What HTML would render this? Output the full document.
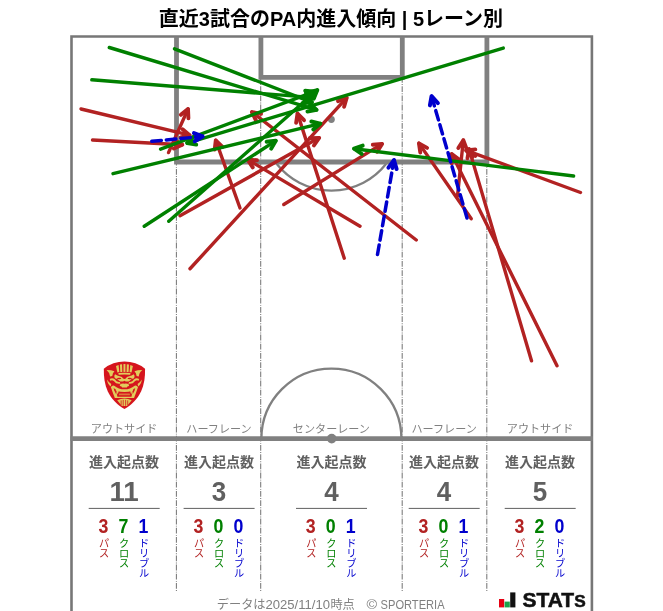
<!DOCTYPE html>
<html lang="ja"><head><meta charset="utf-8"><title>直近3試合のPA内進入傾向 | 5レーン別</title>
<style>html,body{margin:0;padding:0;background:#fff;}body{width:663px;height:611px;overflow:hidden;}svg{display:block;}text{font-family:"Liberation Sans", "Noto Sans CJK JP", sans-serif;}</style></head><body>
<svg width="663" height="611" viewBox="0 0 663 611">
<rect width="663" height="611" fill="#fff"/>
<text x="331" y="25.5" text-anchor="middle" font-size="20" font-weight="700" fill="#000">直近3試合のPA内進入傾向 | 5レーン別</text>
<g fill="none" stroke="#808080">
<line x1="176.4" y1="36.5" x2="176.4" y2="591.3" stroke="#787878" stroke-width="1.05" stroke-dasharray="5.8 1.3 0.9 1.2" stroke-dashoffset="5.5"/>
<line x1="260.7" y1="36.5" x2="260.7" y2="591.3" stroke="#787878" stroke-width="1.05" stroke-dasharray="5.8 1.3 0.9 1.2" stroke-dashoffset="5.5"/>
<line x1="402.2" y1="36.5" x2="402.2" y2="591.3" stroke="#787878" stroke-width="1.05" stroke-dasharray="5.8 1.3 0.9 1.2" stroke-dashoffset="5.5"/>
<line x1="486.8" y1="36.5" x2="486.8" y2="591.3" stroke="#787878" stroke-width="1.05" stroke-dasharray="5.8 1.3 0.9 1.2" stroke-dashoffset="5.5"/>
<path d="M71.5 611V36.5H591.9V611" stroke-width="2.6" stroke="#777"/>
<path d="M176.5 36.5V162H486.9V36.5" stroke-width="4.8"/>
<path d="M260.9 36.5V77.4H402.3V36.5" stroke-width="4.8"/>
<path d="M276.6 163.8A69.5 69.5 0 0 0 386.2 163.8" stroke-width="2.3"/>
<path d="M261.4 438.6A70 70 0 0 1 401.4 438.6" stroke-width="2.3"/>
<line x1="70.5" y1="438.6" x2="592.9" y2="438.6" stroke-width="4.8"/>
</g>
<circle cx="331.4" cy="119.5" r="3.4" fill="#808080"/>
<circle cx="331.7" cy="438.6" r="4.8" fill="#808080"/>
<g stroke="#b22222" fill="none" stroke-linecap="round" stroke-linejoin="round"><path d="M81.00 109.00L189.65 135.20" stroke-width="3.40"/><path d="M180.61 137.29L189.65 135.20L182.55 129.22" stroke-width="3.90"/></g>
<g stroke="#b22222" fill="none" stroke-linecap="round" stroke-linejoin="round"><path d="M92.50 140.00L182.30 144.71" stroke-width="3.40"/><path d="M173.80 148.42L182.30 144.71L174.23 140.13" stroke-width="3.90"/></g>
<g stroke="#b22222" fill="none" stroke-linecap="round" stroke-linejoin="round"><path d="M168.50 152.60L188.01 108.95" stroke-width="3.40"/><path d="M188.41 118.22L188.01 108.95L180.83 114.84" stroke-width="3.90"/></g>
<g stroke="#b22222" fill="none" stroke-linecap="round" stroke-linejoin="round"><path d="M190.00 268.75L346.65 97.85" stroke-width="3.40"/><path d="M344.10 106.78L346.65 97.85L337.98 101.17" stroke-width="3.90"/></g>
<g stroke="#b22222" fill="none" stroke-linecap="round" stroke-linejoin="round"><path d="M180.00 215.75L319.12 137.83" stroke-width="3.40"/><path d="M313.90 145.51L319.12 137.83L309.85 138.27" stroke-width="3.90"/></g>
<g stroke="#b22222" fill="none" stroke-linecap="round" stroke-linejoin="round"><path d="M240.00 208.00L215.77 140.40" stroke-width="3.40"/><path d="M222.48 146.81L215.77 140.40L214.67 149.61" stroke-width="3.90"/></g>
<g stroke="#b22222" fill="none" stroke-linecap="round" stroke-linejoin="round"><path d="M344.25 258.25L297.52 113.62" stroke-width="3.40"/><path d="M304.02 120.24L297.52 113.62L296.13 122.79" stroke-width="3.90"/></g>
<g stroke="#b22222" fill="none" stroke-linecap="round" stroke-linejoin="round"><path d="M360.00 226.25L247.71 159.62" stroke-width="3.40"/><path d="M256.97 160.28L247.71 159.62L252.73 167.42" stroke-width="3.90"/></g>
<g stroke="#b22222" fill="none" stroke-linecap="round" stroke-linejoin="round"><path d="M283.75 204.50L382.05 143.89" stroke-width="3.40"/><path d="M377.17 151.78L382.05 143.89L372.81 144.72" stroke-width="3.90"/></g>
<g stroke="#b22222" fill="none" stroke-linecap="round" stroke-linejoin="round"><path d="M416.25 240.00L251.94 112.04" stroke-width="3.40"/><path d="M261.04 113.87L251.94 112.04L255.94 120.42" stroke-width="3.90"/></g>
<g stroke="#b22222" fill="none" stroke-linecap="round" stroke-linejoin="round"><path d="M471.25 218.75L418.97 143.40" stroke-width="3.40"/><path d="M427.11 147.85L418.97 143.40L420.29 152.58" stroke-width="3.90"/></g>
<g stroke="#b22222" fill="none" stroke-linecap="round" stroke-linejoin="round"><path d="M457.50 196.00L463.32 140.19" stroke-width="3.40"/><path d="M466.59 148.88L463.32 140.19L458.33 148.02" stroke-width="3.90"/></g>
<g stroke="#b22222" fill="none" stroke-linecap="round" stroke-linejoin="round"><path d="M557.00 365.75L451.76 154.02" stroke-width="3.40"/><path d="M459.17 159.61L451.76 154.02L451.73 163.30" stroke-width="3.90"/></g>
<g stroke="#b22222" fill="none" stroke-linecap="round" stroke-linejoin="round"><path d="M531.50 360.75L469.08 149.13" stroke-width="3.40"/><path d="M475.41 155.92L469.08 149.13L467.45 158.27" stroke-width="3.90"/></g>
<g stroke="#b22222" fill="none" stroke-linecap="round" stroke-linejoin="round"><path d="M580.50 192.50L466.10 150.39" stroke-width="3.40"/><path d="M475.32 149.36L466.10 150.39L472.45 157.15" stroke-width="3.90"/></g>
<g stroke="#008000" fill="none" stroke-linecap="round" stroke-linejoin="round"><path d="M109.30 47.50L316.57 109.91" stroke-width="3.40"/><path d="M307.43 111.49L316.57 109.91L309.82 103.54" stroke-width="3.90"/></g>
<g stroke="#008000" fill="none" stroke-linecap="round" stroke-linejoin="round"><path d="M91.80 79.80L313.81 97.66" stroke-width="3.40"/><path d="M305.20 101.13L313.81 97.66L305.87 92.86" stroke-width="3.90"/></g>
<g stroke="#008000" fill="none" stroke-linecap="round" stroke-linejoin="round"><path d="M174.50 48.80L311.92 102.38" stroke-width="3.40"/><path d="M302.68 103.23L311.92 102.38L305.69 95.50" stroke-width="3.90"/></g>
<g stroke="#008000" fill="none" stroke-linecap="round" stroke-linejoin="round"><path d="M113.00 173.70L320.35 123.60" stroke-width="3.40"/><path d="M313.25 129.58L320.35 123.60L311.31 121.51" stroke-width="3.90"/></g>
<g stroke="#008000" fill="none" stroke-linecap="round" stroke-linejoin="round"><path d="M160.60 149.20L314.41 91.60" stroke-width="3.40"/><path d="M308.09 98.39L314.41 91.60L305.18 90.62" stroke-width="3.90"/></g>
<g stroke="#008000" fill="none" stroke-linecap="round" stroke-linejoin="round"><path d="M144.25 226.25L275.82 140.68" stroke-width="3.40"/><path d="M271.13 148.68L275.82 140.68L266.60 141.72" stroke-width="3.90"/></g>
<g stroke="#008000" fill="none" stroke-linecap="round" stroke-linejoin="round"><path d="M168.75 221.25L317.33 90.03" stroke-width="3.40"/><path d="M313.85 98.63L317.33 90.03L308.36 92.41" stroke-width="3.90"/></g>
<g stroke="#008000" fill="none" stroke-linecap="round" stroke-linejoin="round"><path d="M503.25 48.10L187.13 143.01" stroke-width="3.40"/><path d="M193.88 136.65L187.13 143.01L196.27 144.60" stroke-width="3.90"/></g>
<g stroke="#008000" fill="none" stroke-linecap="round" stroke-linejoin="round"><path d="M573.60 176.00L353.99 148.71" stroke-width="3.40"/><path d="M362.74 145.61L353.99 148.71L361.71 153.85" stroke-width="3.90"/></g>
<g stroke="#0000cd" fill="none" stroke-linecap="round" stroke-linejoin="round"><path d="M151.80 141.30L202.61 136.46" stroke-width="3.50" stroke-dasharray="9.6 5.0"/><path d="M194.74 141.38L202.61 136.46L193.95 133.12" stroke-width="4.00"/></g>
<g stroke="#0000cd" fill="none" stroke-linecap="round" stroke-linejoin="round"><path d="M377.50 254.50L393.96 160.17" stroke-width="3.50" stroke-dasharray="9.6 5.0"/><path d="M396.62 169.06L393.96 160.17L388.44 167.64" stroke-width="4.00"/></g>
<g stroke="#0000cd" fill="none" stroke-linecap="round" stroke-linejoin="round"><path d="M467.00 218.00L431.57 96.23" stroke-width="3.50" stroke-dasharray="9.6 5.0"/><path d="M437.88 103.04L431.57 96.23L429.91 105.36" stroke-width="4.00"/></g>
<g transform="translate(94 355) scale(0.09820)">
<path d="M100 140A331.5 331.5 0 0 1 520 140C522 230 510 300 480 370C445 450 380 510 310 551C240 510 175 450 140 370C110 300 98 230 100 140Z" fill="#d5151d"/>
<g fill="#e2cc5c" stroke="none">
<path d="M224 112L250 103L258 172L238 177Z"/>
<path d="M264 98L286 94L288 172L268 172Z"/>
<path d="M300 92H320V172H300Z"/>
<path d="M356 98L334 94L332 172L352 172Z"/>
<path d="M396 112L370 103L362 172L382 177Z"/>
<path d="M248 184Q310 176 372 184L368 202Q310 194 252 202Z"/>
<path id="hornL" d="M128 152Q170 150 208 166Q190 182 186 214L164 220Q162 180 128 152Z"/>
<path d="M492 152Q450 150 412 166Q430 182 434 214L456 220Q458 180 492 152Z"/>
<path d="M214 196Q236 214 262 216Q290 218 296 240Q310 250 324 240Q330 218 358 216Q384 214 406 196Q420 214 408 236Q380 240 364 262Q340 280 310 262Q280 280 256 262Q240 240 212 236Q200 214 214 196Z"/>
<path d="M160 244Q190 228 214 250Q230 280 262 274L270 292Q226 300 204 268Q186 250 166 262Z"/>
<path d="M460 244Q430 228 406 250Q390 280 358 274L350 292Q394 300 416 268Q434 250 454 262Z"/>
<path d="M132 250Q150 280 176 296L170 322Q140 300 132 250Z"/>
<path d="M488 250Q470 280 444 296L450 322Q480 300 488 250Z"/>
<path d="M262 304Q286 284 310 292Q334 284 358 304Q362 322 340 322L334 332H286L280 322Q258 322 262 304Z"/>
<path d="M172 328Q182 306 206 312Q250 348 310 350Q370 348 414 312Q438 306 448 328Q430 380 408 438L212 438Q190 380 172 328Z"/>
<path d="M236 462Q310 426 384 462L336 520H284Z"/>
</g>
<path d="M226 364Q310 392 394 364L382 426H238Z" fill="#d5151d"/>
<path d="M200 336L222 352L226 400L206 362Z" fill="#d5151d"/>
<path d="M420 336L398 352L394 400L414 362Z" fill="#d5151d"/>
<ellipse cx="256" cy="239" rx="22" ry="8" fill="#d5151d"/><ellipse cx="364" cy="239" rx="22" ry="8" fill="#d5151d"/><path d="M296 214L310 232L324 214Z" fill="#d5151d"/>
<path d="M230 362L252 368L240 402Z" fill="#e2cc5c"/><path d="M390 362L368 368L380 402Z" fill="#e2cc5c"/>
<rect x="254" y="392" width="112" height="18" rx="6" fill="#e0763a"/>
<g fill="#d5151d"><rect x="272" y="462" width="8" height="50"/><rect x="293" y="456" width="8" height="62"/><rect x="319" y="456" width="8" height="62"/><rect x="340" y="462" width="8" height="50"/></g>
</g>

<text x="124.1" y="432.6" text-anchor="middle" font-size="11.1" fill="#808080">アウトサイド</text>
<text x="124.1" y="467.3" text-anchor="middle" font-size="14" font-weight="700" fill="#606060">進入起点数</text>
<text transform="translate(124.1 500.7) scale(1.070 1.055)" text-anchor="middle" font-size="26" font-weight="700" fill="#606060">11</text>
<line x1="88.7" y1="508.4" x2="159.7" y2="508.4" stroke="#606060" stroke-width="1"/>
<text transform="translate(103.5 532.9) scale(0.96 1.1)" text-anchor="middle" font-size="18.5" font-weight="700" fill="#b22222">3</text>
<text text-anchor="middle" font-size="10.2" fill="#b22222"><tspan x="104.1" y="547.1">パ</tspan><tspan x="104.1" y="557.1">ス</tspan></text>
<text transform="translate(123.5 532.9) scale(0.96 1.1)" text-anchor="middle" font-size="18.5" font-weight="700" fill="#008000">7</text>
<text text-anchor="middle" font-size="10.2" fill="#008000"><tspan x="124.1" y="547.1">ク</tspan><tspan x="124.1" y="557.1">ロ</tspan><tspan x="124.1" y="567.1">ス</tspan></text>
<text transform="translate(143.5 532.9) scale(0.96 1.1)" text-anchor="middle" font-size="18.5" font-weight="700" fill="#0000cd">1</text>
<text text-anchor="middle" font-size="10.2" fill="#0000cd"><tspan x="144.1" y="547.1">ド</tspan><tspan x="144.1" y="557.1">リ</tspan><tspan x="144.1" y="567.1">ブ</tspan><tspan x="144.1" y="577.1">ル</tspan></text>
<text x="219.0" y="432.6" text-anchor="middle" font-size="11.1" fill="#808080">ハーフレーン</text>
<text x="219.0" y="467.3" text-anchor="middle" font-size="14" font-weight="700" fill="#606060">進入起点数</text>
<text transform="translate(219.0 500.7) scale(1.000 1.055)" text-anchor="middle" font-size="26" font-weight="700" fill="#606060">3</text>
<line x1="183.6" y1="508.4" x2="254.6" y2="508.4" stroke="#606060" stroke-width="1"/>
<text transform="translate(198.4 532.9) scale(0.96 1.1)" text-anchor="middle" font-size="18.5" font-weight="700" fill="#b22222">3</text>
<text text-anchor="middle" font-size="10.2" fill="#b22222"><tspan x="199.0" y="547.1">パ</tspan><tspan x="199.0" y="557.1">ス</tspan></text>
<text transform="translate(218.4 532.9) scale(0.96 1.1)" text-anchor="middle" font-size="18.5" font-weight="700" fill="#008000">0</text>
<text text-anchor="middle" font-size="10.2" fill="#008000"><tspan x="219.0" y="547.1">ク</tspan><tspan x="219.0" y="557.1">ロ</tspan><tspan x="219.0" y="567.1">ス</tspan></text>
<text transform="translate(238.4 532.9) scale(0.96 1.1)" text-anchor="middle" font-size="18.5" font-weight="700" fill="#0000cd">0</text>
<text text-anchor="middle" font-size="10.2" fill="#0000cd"><tspan x="239.0" y="547.1">ド</tspan><tspan x="239.0" y="557.1">リ</tspan><tspan x="239.0" y="567.1">ブ</tspan><tspan x="239.0" y="577.1">ル</tspan></text>
<text x="331.4" y="432.6" text-anchor="middle" font-size="11.1" fill="#808080">センターレーン</text>
<text x="331.4" y="467.3" text-anchor="middle" font-size="14" font-weight="700" fill="#606060">進入起点数</text>
<text transform="translate(331.4 500.7) scale(1.000 1.055)" text-anchor="middle" font-size="26" font-weight="700" fill="#606060">4</text>
<line x1="296.0" y1="508.4" x2="367.0" y2="508.4" stroke="#606060" stroke-width="1"/>
<text transform="translate(310.8 532.9) scale(0.96 1.1)" text-anchor="middle" font-size="18.5" font-weight="700" fill="#b22222">3</text>
<text text-anchor="middle" font-size="10.2" fill="#b22222"><tspan x="311.4" y="547.1">パ</tspan><tspan x="311.4" y="557.1">ス</tspan></text>
<text transform="translate(330.8 532.9) scale(0.96 1.1)" text-anchor="middle" font-size="18.5" font-weight="700" fill="#008000">0</text>
<text text-anchor="middle" font-size="10.2" fill="#008000"><tspan x="331.4" y="547.1">ク</tspan><tspan x="331.4" y="557.1">ロ</tspan><tspan x="331.4" y="567.1">ス</tspan></text>
<text transform="translate(350.8 532.9) scale(0.96 1.1)" text-anchor="middle" font-size="18.5" font-weight="700" fill="#0000cd">1</text>
<text text-anchor="middle" font-size="10.2" fill="#0000cd"><tspan x="351.4" y="547.1">ド</tspan><tspan x="351.4" y="557.1">リ</tspan><tspan x="351.4" y="567.1">ブ</tspan><tspan x="351.4" y="577.1">ル</tspan></text>
<text x="444.1" y="432.6" text-anchor="middle" font-size="11.1" fill="#808080">ハーフレーン</text>
<text x="444.1" y="467.3" text-anchor="middle" font-size="14" font-weight="700" fill="#606060">進入起点数</text>
<text transform="translate(444.1 500.7) scale(1.000 1.055)" text-anchor="middle" font-size="26" font-weight="700" fill="#606060">4</text>
<line x1="408.7" y1="508.4" x2="479.7" y2="508.4" stroke="#606060" stroke-width="1"/>
<text transform="translate(423.5 532.9) scale(0.96 1.1)" text-anchor="middle" font-size="18.5" font-weight="700" fill="#b22222">3</text>
<text text-anchor="middle" font-size="10.2" fill="#b22222"><tspan x="424.1" y="547.1">パ</tspan><tspan x="424.1" y="557.1">ス</tspan></text>
<text transform="translate(443.5 532.9) scale(0.96 1.1)" text-anchor="middle" font-size="18.5" font-weight="700" fill="#008000">0</text>
<text text-anchor="middle" font-size="10.2" fill="#008000"><tspan x="444.1" y="547.1">ク</tspan><tspan x="444.1" y="557.1">ロ</tspan><tspan x="444.1" y="567.1">ス</tspan></text>
<text transform="translate(463.5 532.9) scale(0.96 1.1)" text-anchor="middle" font-size="18.5" font-weight="700" fill="#0000cd">1</text>
<text text-anchor="middle" font-size="10.2" fill="#0000cd"><tspan x="464.1" y="547.1">ド</tspan><tspan x="464.1" y="557.1">リ</tspan><tspan x="464.1" y="567.1">ブ</tspan><tspan x="464.1" y="577.1">ル</tspan></text>
<text x="540.1" y="432.6" text-anchor="middle" font-size="11.1" fill="#808080">アウトサイド</text>
<text x="540.1" y="467.3" text-anchor="middle" font-size="14" font-weight="700" fill="#606060">進入起点数</text>
<text transform="translate(540.1 500.7) scale(1.000 1.055)" text-anchor="middle" font-size="26" font-weight="700" fill="#606060">5</text>
<line x1="504.7" y1="508.4" x2="575.7" y2="508.4" stroke="#606060" stroke-width="1"/>
<text transform="translate(519.5 532.9) scale(0.96 1.1)" text-anchor="middle" font-size="18.5" font-weight="700" fill="#b22222">3</text>
<text text-anchor="middle" font-size="10.2" fill="#b22222"><tspan x="520.1" y="547.1">パ</tspan><tspan x="520.1" y="557.1">ス</tspan></text>
<text transform="translate(539.5 532.9) scale(0.96 1.1)" text-anchor="middle" font-size="18.5" font-weight="700" fill="#008000">2</text>
<text text-anchor="middle" font-size="10.2" fill="#008000"><tspan x="540.1" y="547.1">ク</tspan><tspan x="540.1" y="557.1">ロ</tspan><tspan x="540.1" y="567.1">ス</tspan></text>
<text transform="translate(559.5 532.9) scale(0.96 1.1)" text-anchor="middle" font-size="18.5" font-weight="700" fill="#0000cd">0</text>
<text text-anchor="middle" font-size="10.2" fill="#0000cd"><tspan x="560.1" y="547.1">ド</tspan><tspan x="560.1" y="557.1">リ</tspan><tspan x="560.1" y="567.1">ブ</tspan><tspan x="560.1" y="577.1">ル</tspan></text>
<g font-size="12.2" fill="#808080">
<text x="216.8" y="608.6">データは</text>
<text x="265.4" y="608.6" textLength="64.6" lengthAdjust="spacingAndGlyphs">2025/11/10</text>
<text x="330.4" y="608.6">時点</text>
<text x="366.6" y="608.6" textLength="10.6" lengthAdjust="spacingAndGlyphs">©</text>
<text x="380.6" y="608.6" textLength="64" lengthAdjust="spacingAndGlyphs">SPORTERIA</text>
</g>
<rect x="499" y="599" width="5.2" height="8.4" fill="#e60012"/>
<rect x="504.6" y="601.6" width="5.2" height="5.8" fill="#1aa34a"/>
<rect x="510.2" y="592.4" width="5.2" height="15" fill="#111"/>
<text x="522.5" y="607.4" font-size="19.5" font-weight="700" fill="#111" stroke="#111" stroke-width="0.5" textLength="63.2" lengthAdjust="spacingAndGlyphs">STAT<tspan font-size="16">S</tspan></text>
</svg></body></html>
